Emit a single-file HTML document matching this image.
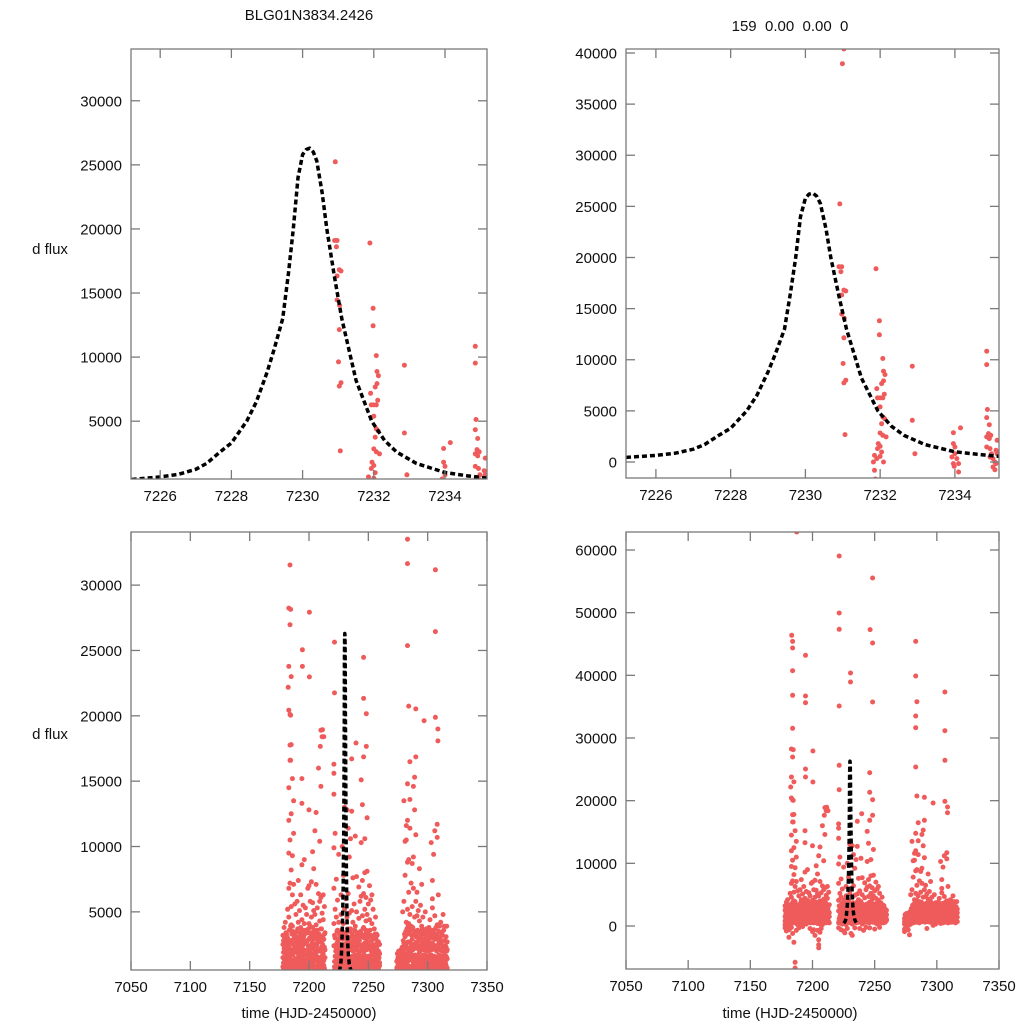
<!DOCTYPE html>
<html><head><meta charset="utf-8">
<style>
html,body{margin:0;padding:0;background:#fff;}
svg{display:block;font-family:"Liberation Sans",sans-serif;}
</style></head>
<body>
<svg id="chart" width="1024" height="1024" viewBox="0 0 1024 1024" xmlns="http://www.w3.org/2000/svg">
<text x="309" y="20" font-size="15" text-anchor="middle" fill="#111">BLG01N3834.2426</text>
<text x="790" y="31" font-size="15" text-anchor="middle" fill="#111" xml:space="preserve">159  0.00  0.00  0</text>
<text x="50" y="254" font-size="15" text-anchor="middle" fill="#111">d flux</text>
<text x="50" y="739" font-size="15" text-anchor="middle" fill="#111">d flux</text>
<text x="309" y="1018" font-size="15" text-anchor="middle" fill="#111">time (HJD-2450000)</text>
<text x="790" y="1018" font-size="15" text-anchor="middle" fill="#111">time (HJD-2450000)</text>
</svg>
<script>
// ---- model curve ----
const modelT = [7225.2,7226,7226.5,7227,7227.3,7227.68,7228,7228.43,7228.7,7229,7229.2,7229.44,7229.6,7229.74,7229.87,7230.0,7230.1,7230.2,7230.3,7230.4,7230.55,7230.68,7230.9,7231.1,7231.5,7231.94,7232.3,7232.64,7233.2,7234,7234.6,7235.2];
const modelF = [450,650,850,1250,1700,2600,3300,5000,6500,8800,10600,13000,16500,20000,24000,25800,26200,26300,26000,25300,22800,20000,16200,13000,8200,5000,3500,2600,1700,1000,750,550];

// ---- zoomed observations (t, flux) ----
const zoomObs = [
[7231.03,40390],[7230.99,38950],[7230.92,25240],[7230.9,19100],[7230.97,19100],[7230.95,18610],
[7231.03,16810],[7231.08,16720],[7230.97,16330],[7230.97,14460],[7231.04,14040],[7231.03,12150],
[7231.01,9630],[7231.08,8000],[7231.03,7740],[7231.06,2680],[7231.89,18900],[7231.98,13810],
[7231.98,12440],[7232.07,10120],[7232.09,8880],[7232.13,8550],[7232.09,7930],[7232.04,7670],
[7231.91,7180],[7231.93,6270],[7232.0,6270],[7232.07,6270],[7232.11,6630],[7232.0,5390],
[7232.07,4410],[7232.12,4240],[7232.04,3750],[7232.0,2840],[7232.07,2610],[7232.16,2450],
[7231.95,1800],[7232.0,1540],[7231.93,1310],[7232.04,980],[7231.85,650],[7231.91,330],
[7231.82,0],[7232.09,0],[7232.0,550],[7231.85,-816],[7231.87,-1665],[7232.86,9370],
[7232.86,4080],[7232.93,816],[7233.96,2870],[7233.96,1800],[7234.0,1470],[7234.15,3330],
[7234.0,816],[7234.05,330],[7233.96,-160],[7234.1,-160],[7233.98,-420],[7234.1,-980],
[7233.92,490],[7234.85,10840],[7234.85,9530],[7234.87,5130],[7234.85,4340],[7234.92,3650],
[7234.9,2780],[7234.85,2450],[7234.92,2290],[7234.96,2610],[7234.85,1470],[7234.94,1310],
[7234.98,816],[7235.02,330],[7235.07,0],[7234.94,490],[7235.1,1140],[7235.02,-490],
[7235.07,-750],[7235.13,2120],[7235.13,816],[7235.1,-160]
];

// ---- full-season observations: high outliers ----
const highObs = [
[7187.3,62870],[7183.3,46380],[7184,45420],[7184,44360],[7194.4,43190],[7184,40740],[7184,36810],
[7194.4,36700],[7194.4,35640],[7184,31540],[7183,28240],[7184.5,28140],[7184,26970],[7200.3,27930],
[7194.4,25050],[7194.4,23780],[7200.3,22980],[7183,23780],[7182.5,22180],[7183,20430],[7184.5,20050],
[7211.4,18940],[7212.5,18400],[7209.5,17660],[7184.5,16600],[7184,17760],
[7221.5,59040],[7221.5,49950],[7221.5,47340],[7221.5,35100],[7221.5,25640],[7221.5,21750],
[7230.6,40370],[7230.6,38940],[7246.3,47290],[7248.3,55530],[7248.3,45160],[7248.3,35740],
[7246,24470],[7246,21330],[7248.3,20160],[7239.6,17920],[7248.3,17660],[7246,16860],
[7283,45420],[7283,39890],[7284,35800],[7283,33510],[7283,31650],[7306.5,37340],[7306.5,31170],
[7283,25370],[7306.5,26440],[7284,20740],[7290,20530],[7297,19630],[7306.5,19890],[7308.6,18990],
[7308.6,18080],[7285,16490],[7290,16860]
];

// ---- full-season observations: per-night base fluxes ----
const nightT = [7178,7179,7180,7181,7182,7183,7184,7185,7186,7187,7188,7189,7190,7191,7192,7193,7194,7195,7196,7197,7198,7199,7200,7201,7202,7203,7204,7205,7206,7207,7208,7209,7210,7211,7212,7213,
7221,7222,7223,7224,7225,7226,7227,7228,7229,7230,7231,7232,7233,7234,7235,7236,7237,7238,7239,7240,7241,7242,7243,7244,7245,7246,7247,7248,7249,7250,7251,7252,7253,7254,7255,7256,7257,7258,7259,
7274,7275,7276,7277,7278,7279,7280,7281,7282,7283,7284,7285,7286,7287,7288,7289,7290,7291,7292,7293,7294,7295,7296,7297,7298,7299,7300,7301,7302,7303,7304,7305,7306,7307,7308,7309,7310,7311,7312,7313,7314,7315,7316];
const nightF = [
[200,1500,2500,-300,800,3200],[1000,-800,2200,600,3800,100],[1800,-200,2900,400,1200,4200],[700,2600,-600,1500,3300,-1800],
[300,1900,3000,5200,-400,1100],[2400,800,4600,6800,9500,-200,12000,14500],[1600,3600,7200,10500,16600,20100,-1200,500],
[2800,5400,8200,12500,17800,23000,-2600,1000,600,4000],[1300,3900,6300,9300,15200,-5800,-6700,2100],[2000,7100,11000,13500,-700,400],
[900,3000,5600,200],[1400,2700,4800,-300],[600,2300,3500,5800,900],[1800,4200,200,2900,7400],[1100,3100,5100,-100],
[2500,600,3800,6300,1400],[900,2200,4400,8600,13300,15200],[1700,3200,5500,300],[700,2800,4100,9000,1200],[2000,3600,600,5300],
[1300,2700,4800,-400],[900,3400,6800,1900],[1600,4100,7000,12800,-900,2900],[500,2300,3900,5800,-600],[1800,4600,1000,3200,7300,-1500],
[2200,800,3800,5700,9600],[1400,2900,5100,-700,400,8300],[600,3300,-2200,-3500,-3000,2000,4800,11200],[1900,4000,7100,300,12600,-1000],
[2600,5300,900,3600,-400],[1200,3100,6400,16000,200],[2000,4300,800,5800,10400],[1500,3700,6100,14600,18900],[500,2800,4900,18400,900],
[1800,4400,6300,1200],[2300,3300,5400,700],
[500,2400,4100,6800,-300,9900,14000,16300,15600],[1600,3000,5200,11000,800],[900,2200,4600,7500,-600],[1800,3600,300,5900],
[700,2900,-800,4200,9400],[1300,3500,-1100,500],[2100,4800,200,6300],[900,3200,1400,-400,10000],[1700,4100,600,7800],
[2500,5200,1000,13000],[800,3300,-1200,6000],[1900,4600,12800,300,-1500],[1000,2800,6400,11400],[2300,4900,-300,9200],
[1400,3700,600,10600],[800,2600,5100,16700,12700],[2000,4200,600,7600],[1100,3100,5600,-400],[1700,3900,800,10800],
[2600,5000,300,7700],[900,3400,1500,-700],[1800,4500,600,6900,3000],[2400,5800,1100,-200],[1200,3300,6200,10300,15100],
[2000,4700,800,7400,13200],[1500,3800,6400,-300],[2600,5200,900,8000,10600],[1100,3600,4300,6100],[2200,4800,700,12200,8100],
[1600,3100,5600,-500],[2400,4400,1000,7000],[900,3200,5900,300],[1800,4100,6300],[1300,2900,5200,-200],[2100,3700,800],
[1000,2500,4600],[1700,3300,500,2200],[1200,2700,600],[800,1900,1500],
[-500,300,1200,-900,700],[400,1500,-200,900],[-100,800,1700,300],[600,-600,1300,100],[200,1000,-1400,500],[900,1900,300,5000],
[1400,2600,600,5800,13500],[500,3100,1800,7800,10400],[2200,4200,1000,10500,11600],[1200,3300,5200,8800,14800,12000],
[2000,4100,6500,600,9000],[800,2700,4800,11400,13600],[1800,3900,500,7200],[2900,5400,1300,8700],[1100,3600,6800,9200,14600],
[2200,4600,800,15300,12800],[1400,3200,5800,10900],[2600,4700,900,6500],[1000,3500,-400,5100],[1900,4300,700,8300],
[1300,2800,5500],[2400,3900,600,7100],[800,2300,4600],[1700,3400,100],[1100,2600,5000],[2000,300,3700],[600,1600,2900],
[1400,2500,3800],[900,2100,4400,1000],[1700,3300,400,10300],[1000,2600,6000,7400,5300],[2200,3600,500,9400],[1300,2900,4700,11200],
[2100,3800,700],[900,2400,11700,10700,4000],[1600,3100,6300,500],[2500,3900,1000],[1200,2700,4200],[2000,3400,600],
[900,2300,4800],[1700,2800,3900],[1100,2400,500],[1500,3900,2000]
];
// extra faint-level measurements per night (half-night offsets)
const nightF2 = [
[700,1100,1900,2800],[400,1300,2100,3000],[900,1600,2400,3400],[600,1200,2000,3100],[800,1500,2300,2900],[500,1400,2200,3600],
[1000,1800,2600,3900],[700,1300,2100,3300],[900,1700,2500,3500],[600,1200,1900,3000],[800,1400,2300,3200],[500,1100,2000,2800],
[700,1500,2400,3700],[600,1300,2100,3000],[900,1600,2700,3400],[500,1200,2000,2900],[800,1500,2200,3600],[700,1400,2500,3100],
[600,1100,1900,3300],[900,1700,2600,3500],[500,1300,2100,2800],[800,1600,2400,3700],[700,1200,2000,3000],[600,1500,2300,3400],
[900,1400,2600,3200],[500,1100,2200,2900],[800,1700,2500,3600],[700,1300,1900,3100],[600,1600,2400,3500],[900,1200,2100,2800],
[500,1500,2700,3300],[800,1400,2000,3000],[700,1100,2300,3700],[600,1700,2500,3100],[900,1300,2200,2900],[500,1500,2100,3400],
[800,1200,2400,3200],[700,1600,2000,3000],[600,1400,2600,3500],[900,1100,2300,2800],[500,1700,2100,3300],[800,1300,2500,3100],
[700,1500,1900,3600],[600,1200,2200,2900],[900,1600,2400,3400],[500,1400,2000,3000],[800,1100,2600,3200],[700,1700,2300,3700],
[600,1300,2100,2800],[900,1500,2500,3500],[500,1200,2200,3100],[800,1600,2400,3300],[700,1400,2000,2900],[600,1100,2700,3600],
[900,1700,2300,3000],[500,1300,2100,3400],[800,1500,2600,3200],[700,1200,1900,2800],[600,1600,2400,3500],[900,1400,2200,3100],
[500,1100,2500,3700],[800,1700,2000,3000],[700,1300,2300,3300],[600,1500,2100,2900],[900,1200,2600,3400],[500,1600,2400,3200],
[800,1400,2200,3600],[700,1100,2000,2800],[600,1700,2500,3100],[900,1300,2300,3000],[500,1500,2100,3300],[800,1200,1900,2900],
[700,1600,2400,3200],[600,1400,2000,2700],[900,1100,1800,2500],
[300,800,1300,1800],[400,900,1400,2000],[200,700,1200,1900],[500,1000,1500,2100],[300,900,1600,2300],[600,1200,2000,2800],
[700,1500,2400,3300],[800,1600,2500,3500],[600,1400,2300,3700],[900,1700,2700,3900],[700,1300,2200,3400],[800,1500,2600,3600],
[600,1600,2400,3200],[900,1400,2100,3800],[700,1200,2500,3300],[800,1700,2300,3500],[600,1500,2700,3100],[900,1300,2200,3600],
[700,1600,2400,3000],[800,1400,2000,3400],[600,1200,2300,3200],[900,1500,2600,3700],[700,1700,2100,2900],[800,1300,2500,3300],
[600,1400,2200,3100],[900,1600,2400,3500],[700,1200,2000,2800],[800,1500,2300,3200],[600,1700,2600,3600],[900,1300,2100,3000],
[700,1400,2500,3400],[800,1600,2200,3100],[600,1200,2400,3700],[900,1500,2000,3300],[700,1300,2300,2900],[800,1700,2600,3500],
[600,1400,2100,3000],[900,1600,2500,3400],[700,1200,2200,3200],[800,1500,2400,3600],[600,1300,2000,2800],[900,1600,2300,3100],
[700,1400,2100,2700]
];

// ---- axes ----
const zoomXTicks = [7226,7228,7230,7232,7234];
const fullXTicks = [7050,7100,7150,7200,7250,7300,7350];
const tlYTicks = [5000,10000,15000,20000,25000,30000];
const trYTicks = [0,5000,10000,15000,20000,25000,30000,35000,40000];
const blYTicks = [5000,10000,15000,20000,25000,30000];
const brYTicks = [0,10000,20000,30000,40000,50000,60000];

const NS = "http://www.w3.org/2000/svg";
const svg = document.getElementById('chart');
function mk(tag, attrs, parent){
  const e = document.createElementNS(NS, tag);
  for (const k in attrs) e.setAttribute(k, attrs[k]);
  (parent||svg).appendChild(e);
  return e;
}

function panel(id, box, xr, yr, xt, yt, obs, nameBase){
  const sx = v => box.x0 + (v - xr[0]) / (xr[1] - xr[0]) * (box.x1 - box.x0);
  const sy = v => box.y1 - (v - yr[0]) / (yr[1] - yr[0]) * (box.y1 - box.y0);
  const g = mk('g', {});
  
  
  const cp = mk('clipPath', {id: 'clip' + id}, g);
  mk('rect', {x: box.x0, y: box.y0, width: box.x1 - box.x0, height: box.y1 - box.y0}, cp);
  const pts = mk('g', {'clip-path': 'url(#clip' + id + ')', fill: '#ef5b5b'}, g);
  
  
  for (const p of obs){
    if (p[1] < yr[0] - 2000 || p[1] > yr[1] + 2000) continue;
    if (p[0] < xr[0] || p[0] > xr[1]) continue;
    const c = mk('circle', {cx: sx(p[0]).toFixed(1), cy: sy(p[1]).toFixed(1), r: 2.5}, pts);
    
    
  }
  let d = '';
  modelT.forEach((t, i) => { d += (i ? 'L' : 'M') + sx(t).toFixed(1) + ',' + sy(modelF[i]).toFixed(1); });
  const ml = mk('path', {d: d, fill: 'none', stroke: '#000', 'stroke-width': 3.5, 'stroke-dasharray': '5,3', 'stroke-linejoin': 'round', 'clip-path': 'url(#clip' + id + ')'}, g);
  
  
  const fr = mk('rect', {x: box.x0, y: box.y0, width: box.x1 - box.x0, height: box.y1 - box.y0, fill: 'none', stroke: '#7a7a7a', 'stroke-width': 1.3}, g);
  
  
  for (const t of xt){
    const x = sx(t);
    mk('line', {x1: x, x2: x, y1: box.y1, y2: box.y1 - 9, stroke: '#7a7a7a', 'stroke-width': 1.3}, g);
    mk('line', {x1: x, x2: x, y1: box.y0, y2: box.y0 + 9, stroke: '#7a7a7a', 'stroke-width': 1.3}, g);
    const tx = mk('text', {x: x, y: box.y1 + 22, 'font-size': 15, 'text-anchor': 'middle', fill: '#111'}, g);
    tx.textContent = t;
    
    
  }
  for (const v of yt){
    const y = sy(v);
    mk('line', {x1: box.x0, x2: box.x0 + 9, y1: y, y2: y, stroke: '#7a7a7a', 'stroke-width': 1.3}, g);
    mk('line', {x1: box.x1, x2: box.x1 - 9, y1: y, y2: y, stroke: '#7a7a7a', 'stroke-width': 1.3}, g);
    const ty = mk('text', {x: box.x0 - 9, y: y + 5.5, 'font-size': 15, 'text-anchor': 'end', fill: '#111'}, g);
    ty.textContent = v;
    
    
  }
}

const fullObs = highObs.slice();
nightT.forEach((t, i) => nightF[i].forEach(f => fullObs.push([t, f])));
nightT.forEach((t, i) => nightF2[i].forEach((f, j) => fullObs.push([t + 0.5, f])));

panel('tl', {x0: 131, x1: 487, y0: 49, y1: 479}, [7225.18, 7235.18], [490, 34040], zoomXTicks, tlYTicks, zoomObs, 'top-left');
panel('tr', {x0: 626, x1: 999, y0: 49, y1: 478}, [7225.2, 7235.18], [-1565, 40391], zoomXTicks, trYTicks, zoomObs, 'top-right');
panel('bl', {x0: 131, x1: 487, y0: 532, y1: 970}, [7050, 7350], [552, 34064], fullXTicks, blYTicks, fullObs, 'bottom-left');
panel('br', {x0: 626, x1: 999, y0: 532, y1: 969}, [7050, 7350], [-6862, 62872], fullXTicks, brYTicks, fullObs, 'bottom-right');
</script>
</body></html>
